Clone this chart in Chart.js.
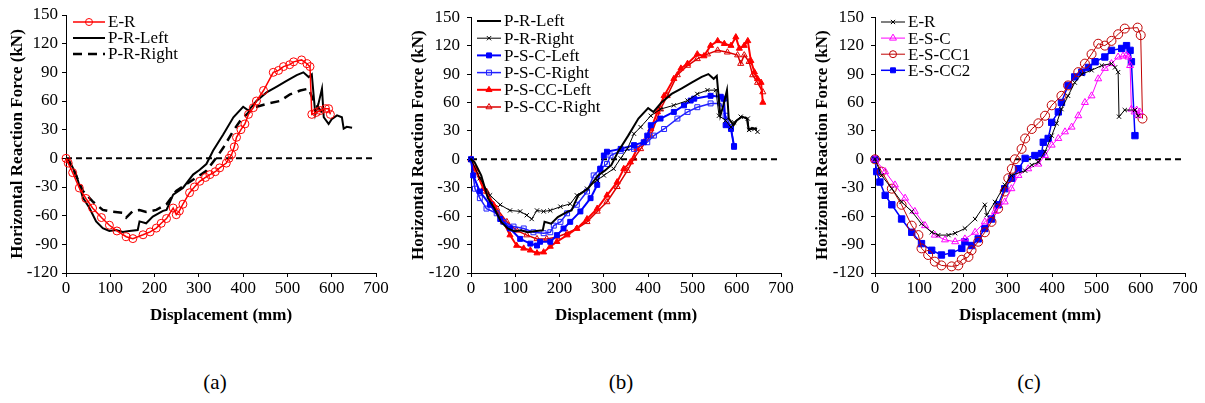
<!DOCTYPE html>
<html>
<head>
<meta charset="utf-8">
<script src="https://cdn.jsdelivr.net/npm/chart.js@4.4.1/dist/chart.umd.min.js"></script>
<style>
  body { margin:0; background:#fff; width:1205px; height:403px; position:relative; overflow:hidden; font-family:"Liberation Serif","Times New Roman",serif; }
  .panel { position:absolute; top:0; }
  .cap { position:absolute; top:370px; font-size:21px; width:60px; text-align:center; }
</style>
</head>
<body>
<div class="panel" style="left:0px"><canvas id="chA" width="395" height="330"></canvas></div>
<div class="panel" style="left:405px"><canvas id="chB" width="395" height="330"></canvas></div>
<div class="panel" style="left:809px"><canvas id="chC" width="395" height="330"></canvas></div>
<div class="cap" style="left:185px">(a)</div>
<div class="cap" style="left:591px">(b)</div>
<div class="cap" style="left:999px">(c)</div>
<script>
// axis ticks
var xTicks = [0, 100, 200, 300, 400, 500, 600, 700];
var yTicks = [-120, -90, -60, -30, 0, 30, 60, 90, 120, 150];
var zeroLine = [[0, 0], [700, 0]];

// (a) E-R test, P-R models  [displacement mm, force kN]
var erA = [[0,0],[5,-5],[15,-15],[30,-31],[45,-42],[60,-52],[80,-62],[98,-70],[115,-76],[136,-82],[151,-84],[174,-80],[190,-77],[204,-73],[215,-68],[227,-63],[242,-52],[249,-59],[256,-55],[264,-48],[279,-36],[290,-30],[302,-24],[315,-20],[325,-17],[337,-14],[347,-10],[362,-5],[368,0],[374,4],[380,12],[385,22],[395,30],[404,36],[412,46],[423,53],[430,60],[446,71],[468,90],[480,92],[491,96],[505,98],[514,101],[532,103],[544,99],[551,96],[555,46],[565,48],[574,50],[586,52],[593,52],[597,46]];
var prLeft = [[0,0],[8,-3],[23,-17],[38,-41],[53,-52],[68,-66],[83,-73],[98,-76],[113,-75],[128,-77],[143,-76],[162,-75],[166,-66],[181,-68],[196,-61],[219,-55],[227,-54],[242,-38],[264,-31],[287,-17],[302,-12],[317,-6],[332,8],[355,25],[378,43],[400,54],[412,50],[430,60],[453,69],[476,75],[498,81],[521,87],[536,90],[548,85],[555,88],[563,46],[570,57],[578,73],[582,43],[593,36],[600,41],[612,45],[623,43],[627,31],[634,33],[646,32]];
var prRightA = [[0,0],[15,-10],[38,-34],[60,-45],[83,-54],[106,-56],[128,-57],[136,-62],[151,-55],[166,-54],[181,-56],[204,-54],[227,-48],[249,-34],[272,-27],[295,-20],[317,-13],[340,1],[355,11],[378,29],[393,39],[423,53],[453,57],[483,60],[506,67],[529,71],[548,73],[559,60],[574,50],[589,45]];

// (b) P-R, P-S-C, P-S-CC models
var prRightB = [[0,0],[20,-20],[43,-38],[66,-48],[88,-54],[111,-55],[126,-59],[137,-63],[149,-54],[164,-55],[179,-54],[202,-50],[224,-47],[239,-38],[262,-31],[285,-22],[300,-17],[322,-10],[338,1],[353,11],[368,27],[383,34],[406,46],[428,53],[458,57],[489,62],[511,69],[534,73],[553,73],[560,46],[575,41],[587,34],[594,39],[609,45],[625,43],[628,31],[640,32],[647,29]];
var pscLeft = [[0,0],[5,-17],[20,-34],[43,-48],[66,-63],[88,-73],[111,-84],[134,-89],[149,-91],[156,-87],[179,-87],[194,-80],[209,-73],[224,-66],[247,-55],[270,-41],[285,-27],[292,-10],[300,4],[307,8],[338,11],[368,15],[390,18],[398,25],[406,36],[428,43],[458,50],[481,57],[496,62],[504,64],[541,67],[564,66],[571,64],[575,36],[587,32],[594,14]];
var pscRight = [[0,0],[9,-31],[20,-41],[35,-52],[58,-57],[73,-66],[96,-71],[119,-73],[141,-77],[164,-78],[179,-77],[187,-70],[202,-66],[217,-57],[239,-48],[262,-34],[277,-17],[292,-10],[307,-5],[315,4],[338,9],[368,11],[398,18],[413,25],[436,32],[466,43],[489,50],[511,55],[541,59],[564,59],[575,46],[587,34],[594,13]];
var psccLeft = [[0,0],[9,-10],[28,-31],[51,-48],[73,-66],[88,-80],[103,-91],[119,-94],[134,-96],[149,-99],[164,-98],[179,-92],[194,-87],[217,-80],[239,-73],[262,-63],[285,-52],[307,-38],[330,-24],[345,-10],[360,-3],[375,11],[390,18],[406,32],[421,50],[436,67],[458,85],[474,96],[489,101],[511,111],[526,109],[541,120],[557,125],[572,122],[587,120],[598,129],[606,117],[617,120],[625,125],[632,104],[640,92],[647,85],[655,81],[659,60]];
var psccRight = [[0,0],[13,-13],[35,-34],[58,-52],[81,-66],[103,-75],[126,-80],[149,-84],[171,-84],[194,-82],[217,-78],[239,-73],[262,-66],[285,-55],[307,-45],[330,-29],[353,-12],[368,1],[383,11],[406,25],[428,53],[443,67],[466,89],[489,99],[511,106],[534,111],[557,115],[579,113],[602,110],[609,101],[617,110],[628,103],[636,89],[647,81],[659,71]];

// (c) E tests
var erC = [[0,0],[15,-17],[38,-31],[60,-45],[83,-55],[105,-68],[128,-77],[143,-80],[166,-80],[181,-78],[203,-73],[226,-63],[248,-48],[252,-59],[271,-45],[293,-27],[308,-17],[339,-12],[354,-6],[369,-3],[384,8],[399,25],[410,38],[421,53],[436,67],[451,81],[467,90],[489,94],[512,99],[534,101],[542,97],[549,92],[551,45],[564,52],[587,52],[594,46]];
var escC = [[0,0],[23,-13],[45,-27],[68,-41],[90,-55],[113,-70],[135,-80],[158,-85],[181,-87],[203,-84],[226,-77],[248,-66],[271,-55],[293,-45],[308,-31],[324,-17],[346,-10],[369,-5],[384,4],[399,15],[414,22],[429,29],[444,34],[459,46],[474,60],[489,67],[504,85],[519,96],[534,101],[549,108],[560,109],[568,110],[572,108],[576,99],[579,53],[586,50],[591,52],[594,46],[598,50]];
var escc1 = [[0,0],[15,-13],[38,-31],[60,-48],[83,-70],[98,-80],[105,-94],[120,-101],[135,-108],[150,-112],[173,-113],[188,-112],[196,-106],[211,-103],[218,-96],[233,-87],[248,-77],[263,-66],[278,-52],[293,-34],[301,-20],[309,-10],[316,0],[331,11],[339,22],[354,32],[369,38],[384,46],[399,57],[421,67],[436,78],[459,92],[474,101],[489,111],[504,122],[519,120],[534,125],[549,132],[564,138],[593,139],[600,131],[604,43]];
var escc2 = [[0,0],[4,-13],[11,-24],[23,-38],[38,-48],[60,-63],[83,-77],[105,-89],[128,-96],[150,-101],[173,-99],[196,-94],[203,-87],[218,-91],[233,-84],[248,-73],[263,-63],[278,-48],[293,-31],[309,-20],[324,-10],[339,1],[361,4],[376,6],[380,18],[391,22],[399,39],[414,50],[421,60],[436,78],[451,87],[467,92],[482,97],[497,103],[519,108],[534,115],[557,117],[568,120],[576,115],[579,103],[587,25]];

var FONT = '"Liberation Serif", "Times New Roman", serif';
Chart.defaults.font.family = FONT;
Chart.defaults.color = '#000';

function pts(arr) { return arr.map(function(p) { return {x: p[0], y: p[1]}; }); }

function series(label, arr, color, opt) {
  opt = opt || {};
  return {
    label: label,
    data: pts(arr),
    borderColor: color,
    borderWidth: opt.width || 1.5,
    borderDash: opt.dash || [],
    pointStyle: opt.style || 'circle',
    pointRadius: opt.radius || 0,
    pointBorderColor: color,
    pointBackgroundColor: opt.fill ? color : 'rgba(0,0,0,0)',
    pointBorderWidth: opt.pw || 1,
    legendRadius: opt.lr || opt.radius || 0,
    showLine: true,
    tension: 0,
    clip: 8
  };
}

function zeroSeries() {
  return { label: '', data: pts(zeroLine), borderColor: '#000', borderWidth: 2, borderDash: [6, 4],
           pointRadius: 0, showLine: true, clip: 4 };
}

// legend drawn inside the plot area
var insideLegend = {
  id: 'insideLegend',
  afterDatasetsDraw: function(chart, args, o) {
    var ctx = chart.ctx, y = o.y;
    ctx.save();
    ctx.font = '17px ' + FONT;
    ctx.textBaseline = 'middle';
    chart.data.datasets.forEach(function(ds) {
      if (!ds.label) return;
      ctx.strokeStyle = ds.borderColor;
      ctx.lineWidth = ds.borderWidth;
      ctx.setLineDash(ds.borderDash || []);
      ctx.beginPath(); ctx.moveTo(o.x, y); ctx.lineTo(o.x + o.len, y); ctx.stroke();
      ctx.setLineDash([]);
      if (ds.legendRadius > 0) {
        ctx.fillStyle = ds.pointBackgroundColor;
        ctx.strokeStyle = ds.pointBorderColor;
        ctx.lineWidth = ds.pointBorderWidth;
        Chart.helpers.drawPoint(ctx, {pointStyle: ds.pointStyle, radius: ds.legendRadius, rotation: 0,
          borderWidth: ds.pointBorderWidth}, o.x + o.len / 2, y);
      }
      ctx.fillStyle = '#000';
      ctx.fillText(ds.label, o.x + o.len + 3, y + 1);
      y += o.gap;
    });
    ctx.restore();
  }
};

function makeChart(id, datasets, cfg) {
  new Chart(document.getElementById(id), {
    type: 'scatter',
    data: { datasets: datasets },
    options: {
      responsive: false,
      animation: false,
      layout: { padding: { top: 15, right: 19, left: 0, bottom: 0 } },
      plugins: {
        legend: { display: false },
        tooltip: { enabled: false },
        insideLegend: cfg.legend
      },
      scales: {
        x: {
          type: 'linear', min: 0, max: 700,
          afterBuildTicks: function(s) { s.ticks = xTicks.map(function(v) { return {value: v}; }); },
          afterFit: function(s) { s.height = 57; },
          grid: { drawOnChartArea: false, tickLength: 4, color: '#000' },
          border: { color: '#000', width: 1 },
          ticks: { font: { size: 17 }, padding: 1, maxRotation: 0 },
          title: { display: true, text: 'Displacement (mm)', font: { size: 17, weight: 'bold' }, padding: { top: 0, bottom: 4 } }
        },
        y: {
          type: 'linear', min: -120, max: 150,
          afterBuildTicks: function(s) { s.ticks = yTicks.map(function(v) { return {value: v}; }); },
          afterFit: function(s) { s.width = 66; },
          grid: { drawOnChartArea: false, tickLength: 4, color: '#000' },
          border: { color: '#000', width: 1 },
          ticks: { font: { size: 17 }, padding: cfg.yPad },
          title: { display: true, text: 'Horizontal Reaction Force (kN)', font: { size: 17, weight: 'bold' }, padding: { top: cfg.tPad, bottom: 0 } }
        }
      }
    },
    plugins: [insideLegend]
  });
}

makeChart('chA', [
  series('E-R', erA, '#FF0000', { radius: 4, width: 1.5, lr: 3.5 }),
  series('P-R-Left', prLeft, '#000', { width: 2 }),
  series('P-R-Right', prRightA, '#000', { width: 2.5, dash: [9, 6] }),
  zeroSeries()
], { yPad: 4, tPad: 7, legend: { x: 73, y: 22, len: 32, gap: 16 } });

makeChart('chB', [
  series('P-R-Left', prLeft, '#000', { width: 2 }),
  series('P-R-Right', prRightB, '#000', { width: 1, style: 'crossRot', radius: 3 }),
  series('P-S-C-Left', pscLeft, '#0000FF', { width: 2, style: 'rect', radius: 3.5, fill: true }),
  series('P-S-C-Right', pscRight, '#2222FF', { width: 1.5, style: 'rect', radius: 3.5 }),
  series('P-S-CC-Left', psccLeft, '#FF0000', { width: 2, style: 'triangle', radius: 3.5, fill: true }),
  series('P-S-CC-Right', psccRight, '#DD0000', { width: 1.5, style: 'triangle', radius: 3.5 }),
  zeroSeries()
], { yPad: 7, tPad: 3, legend: { x: 72, y: 21, len: 24, gap: 17.2 } });

makeChart('chC', [
  series('E-R', erC, '#000', { width: 1, style: 'crossRot', radius: 3 }),
  series('E-S-C', escC, '#FF00FF', { width: 1, style: 'triangle', radius: 4 }),
  series('E-S-CC1', escc1, '#C00000', { width: 1, radius: 4.5, lr: 3.5 }),
  series('E-S-CC2', escc2, '#0000FF', { width: 1.5, style: 'rect', radius: 4.5, fill: true, lr: 3.5 }),
  zeroSeries()
], { yPad: 7, tPad: 3, legend: { x: 72, y: 22, len: 24, gap: 16.1 } });
</script>
</body>
</html>
